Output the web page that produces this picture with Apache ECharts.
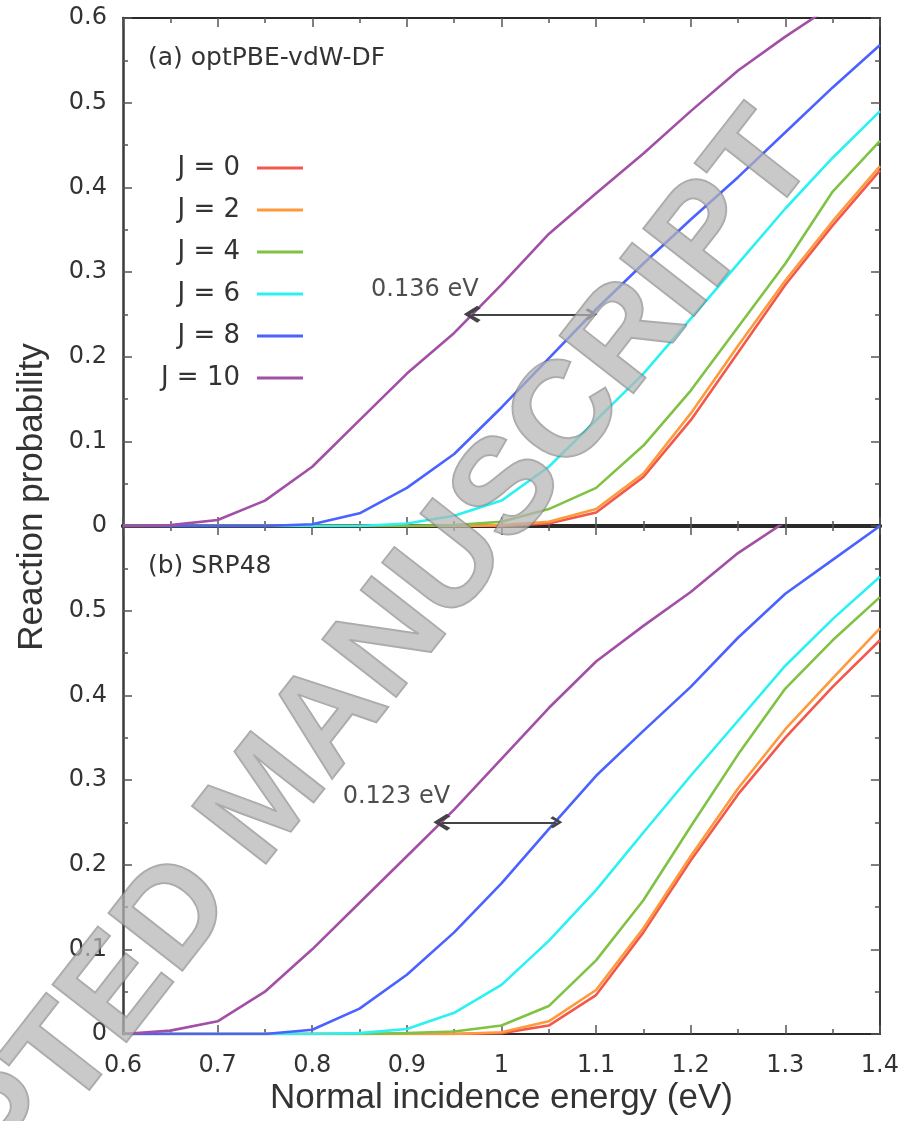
<!DOCTYPE html>
<html>
<head>
<meta charset="utf-8">
<script src="https://cdn.jsdelivr.net/npm/echarts@6/dist/echarts.min.js"></script>
<style>
html,body{margin:0;padding:0;background:#ffffff;}
#chart{width:902px;height:1121px;}
</style>
</head>
<body>
<div id="chart"></div>
<script>
// ---------------- data ----------------
const energies = [0.6,0.65,0.7,0.75,0.8,0.85,0.9,0.95,1.0,1.05,1.1,1.15,1.2,1.25,1.3,1.35,1.4];
const jLabels = ['J = 0','J = 2','J = 4','J = 6','J = 8','J = 10'];
const yTickValues = [0,0.1,0.2,0.3,0.4,0.5,0.6];

// (a) optPBE-vdW-DF
const topJ0  = [0,0,0,0,0,0,0,0,0,0.003,0.016,0.058,0.125,0.205,0.285,0.355,0.42];
const topJ2  = [0,0,0,0,0,0,0,0,0.001,0.005,0.02,0.062,0.133,0.213,0.29,0.36,0.425];
const topJ4  = [0,0,0,0,0,0,0,0.001,0.005,0.02,0.045,0.095,0.16,0.235,0.31,0.395,0.455];
const topJ6  = [0,0,0,0,0,0,0.003,0.012,0.03,0.07,0.125,0.18,0.245,0.31,0.375,0.435,0.49];
const topJ8  = [0,0,0,0,0.002,0.015,0.045,0.085,0.14,0.198,0.256,0.31,0.362,0.412,0.465,0.518,0.568];
const topJ10 = [0,0.001,0.007,0.03,0.07,0.125,0.18,0.228,0.285,0.345,0.393,0.44,0.49,0.538,0.578,0.615,0.645];

// (b) SRP48
const botJ0  = [0,0,0,0,0,0,0,0,0.001,0.01,0.046,0.12,0.205,0.283,0.35,0.41,0.465];
const botJ2  = [0,0,0,0,0,0,0,0,0.002,0.015,0.052,0.125,0.21,0.29,0.36,0.42,0.479];
const botJ4  = [0,0,0,0,0,0,0.001,0.003,0.01,0.033,0.087,0.158,0.245,0.33,0.408,0.465,0.516];
const botJ6  = [0,0,0,0,0,0.001,0.006,0.025,0.058,0.11,0.17,0.238,0.305,0.37,0.435,0.49,0.54];
const botJ8  = [0,0,0,0,0.005,0.03,0.07,0.12,0.178,0.242,0.305,0.358,0.41,0.468,0.52,0.56,0.6];
const botJ10 = [0,0.004,0.015,0.05,0.1,0.155,0.21,0.265,0.325,0.385,0.44,0.482,0.522,0.568,0.605,0.64,0.67];

// annotations: arrow between J=10 and J=8 at a probability of 0.25
const topArrowX = [0.969, 1.095];
const botArrowX = [0.937, 1.058];
const arrowLevel = 0.25;
const topArrowLabel = ['0.136 eV', 0.919, 0.279];
const botArrowLabel = ['0.123 eV', 0.889, 0.280];

// ---------------- style ----------------
const colors = ['#f2584c','#ff9a3c','#80c244','#2af2f2','#4a62ff','#a24fa6'];
const tickFont = 'DejaVu Sans';
const titleFont = 'Liberation Sans';
const chevron = 'path://M5,0 L10,7 L8.4,8.8 L5,3.4 L1.6,8.8 L0,7 Z';

const topSeries = [topJ0, topJ2, topJ4, topJ6, topJ8, topJ10];
const botSeries = [botJ0, botJ2, botJ4, botJ6, botJ8, botJ10];

function pairs(ys){ return energies.map((x,i)=>[x, ys[i]]); }

const tickStyle = {color:'#555', width:1.5};

function xAx(grid, pos, showLabel, lineW){
  const a = {
    type:'value', gridIndex:grid, position:pos, min:0.6, max:1.4, interval:0.1,
    axisLine:{show:true, onZero:false, lineStyle:{color:'#2a2a2a', width:lineW}},
    axisTick:{show:true, inside:true, length:9, lineStyle:tickStyle},
    minorTick:{show:true, splitNumber:2, length:5, lineStyle:tickStyle},
    splitLine:{show:false}, minorSplitLine:{show:false},
    axisLabel:{show:showLabel, margin:20, fontFamily:tickFont, fontSize:24, color:'#333'}
  };
  if (showLabel){
    a.name = 'Normal incidence energy (eV)';
    a.nameLocation = 'middle';
    a.nameGap = 47;
    a.nameTextStyle = {fontFamily:titleFont, fontSize:35, color:'#333'};
  }
  return a;
}
function yAx(grid, pos, showLabel, hideTop, lineW){
  return {
    type:'value', gridIndex:grid, position:pos, min:0, max:0.6, interval:0.1,
    axisLine:{show:true, onZero:false, lineStyle:{color:'#3a3a3a', width:lineW}},
    axisTick:{show:true, inside:true, length:9, lineStyle:tickStyle},
    minorTick:{show:true, splitNumber:2, length:5, lineStyle:tickStyle},
    splitLine:{show:false}, minorSplitLine:{show:false},
    axisLabel:{show:showLabel, margin:16, fontFamily:tickFont, fontSize:24, color:'#333',
      formatter:function(v){
        const t = yTickValues.find(q=>Math.abs(q-v)<1e-6);
        if (hideTop && Math.abs(v-0.6)<1e-6) return '';
        return t===undefined ? '' : String(t);
      }}
  };
}

const series = [];
jLabels.forEach((name,k)=>{
  series.push({type:'line', name:name, xAxisIndex:0, yAxisIndex:0, data:pairs(topSeries[k]),
    showSymbol:false, symbol:'none', clip:true, z:2+k,
    lineStyle:{color:colors[k], width:2.6}, itemStyle:{color:colors[k]}, emphasis:{disabled:true}});
  series.push({type:'line', name:name, xAxisIndex:2, yAxisIndex:2, data:pairs(botSeries[k]),
    showSymbol:false, symbol:'none', clip:true, z:2+k,
    lineStyle:{color:colors[k], width:2.6}, itemStyle:{color:colors[k]}, emphasis:{disabled:true}});
});
// arrows
[[0, topArrowX],[2, botArrowX]].forEach(([ax, xs])=>{
  series.push({type:'lines', coordinateSystem:'cartesian2d', xAxisIndex:ax, yAxisIndex:ax, silent:true, z:20,
    symbol:[chevron, chevron], symbolSize:[17,12],
    lineStyle:{color:'#444', width:2, opacity:1, curveness:0},
    itemStyle:{color:'#222'},
    data:[{coords:[[xs[0], arrowLevel],[xs[1], arrowLevel]]}]});
});
// arrow labels
[[0, topArrowLabel],[2, botArrowLabel]].forEach(([ax, lab])=>{
  series.push({type:'scatter', xAxisIndex:ax, yAxisIndex:ax, silent:true, z:20,
    symbolSize:2, itemStyle:{color:'rgba(0,0,0,0)'}, data:[[lab[1], lab[2]]],
    label:{show:true, position:'inside', formatter:lab[0], fontFamily:tickFont, fontSize:24,
      color:'#222', textBorderWidth:0}});
});

const option = {
  animation:false,
  backgroundColor:'#ffffff',
  grid:[
    {left:123, right:22, top:18, height:508},
    {left:123, right:22, top:526, height:508}
  ],
  xAxis:[ xAx(0,'bottom',false,4), xAx(0,'top',false,2), xAx(1,'bottom',true,2), xAx(1,'top',false,4) ],
  yAxis:[ yAx(0,'left',true,false,2.5), yAx(0,'right',false,false,2), yAx(1,'left',true,true,2.5), yAx(1,'right',false,false,2) ],
  title:[
    {text:'(a) optPBE-vdW-DF', left:148, top:46, padding:0, textStyle:{fontFamily:tickFont, fontSize:25, fontWeight:'normal', color:'#333'}},
    {text:'(b) SRP48', left:148, top:554, padding:0, textStyle:{fontFamily:tickFont, fontSize:25, fontWeight:'normal', color:'#333'}}
  ],
  legend:{
    data:jLabels, orient:'vertical', right:599, top:153, padding:0, align:'right',
    icon:'rect', itemWidth:46, itemHeight:3, itemGap:12, selectedMode:false,
    textStyle:{fontFamily:tickFont, fontSize:26, color:'#333', lineHeight:30, padding:[0,12,0,0]}
  },
  graphic:[
    {type:'text', x:32, y:497, rotation:Math.PI/2, z:50,
      style:{text:'Reaction probability', fontFamily:titleFont, fontSize:35, fill:'#333', align:'center', verticalAlign:'middle'}},
    {type:'text', x:268, y:800, rotation:52*Math.PI/180, z:100, silent:true,
      style:{text:'ACCEPTED MANUSCRIPT', fontFamily:titleFont, fontSize:136, fontWeight:'bold', fill:'rgba(180,180,180,0.72)',
        stroke:'rgba(110,110,110,0.6)', lineWidth:2, align:'center', verticalAlign:'middle'}}
  ],
  series:series
};

const chart = echarts.init(document.getElementById('chart'), null, {renderer:'canvas'});
chart.setOption(option);
</script>
</body>
</html>
